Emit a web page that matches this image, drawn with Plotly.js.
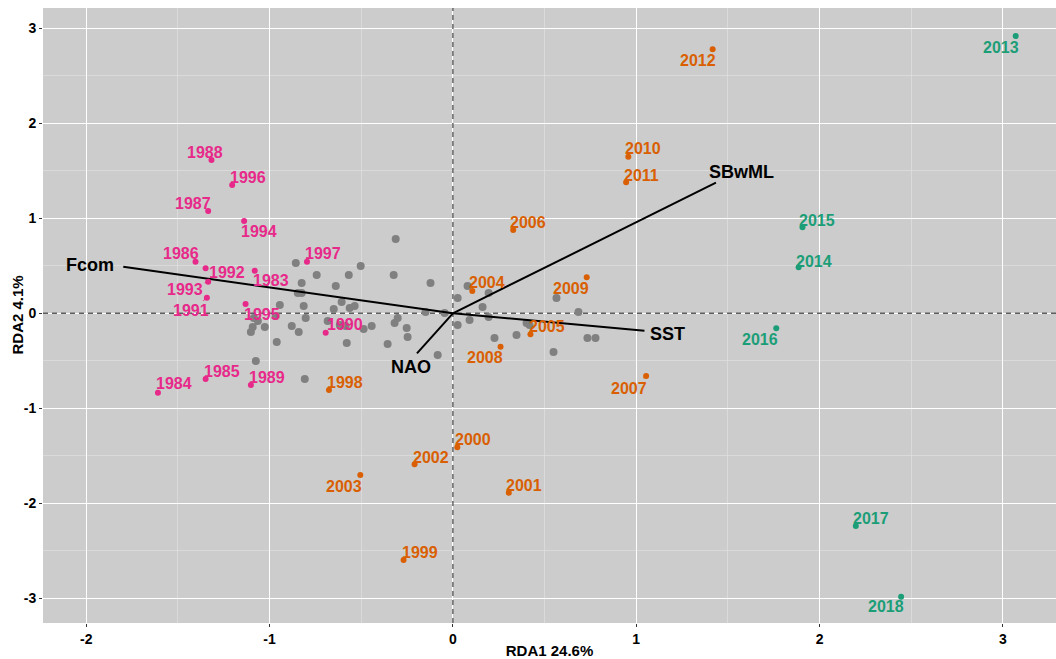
<!DOCTYPE html>
<html>
<head>
<meta charset="utf-8">
<script src="https://cdn.plot.ly/plotly-3.0.1.min.js"></script>
<style>html,body{margin:0;padding:0;background:#fff}#chart{width:1056px;height:659px}</style>
</head>
<body>
<div id="chart"></div>
<script>
// ---- Data ----
// Years (site scores, RDA1 / RDA2)
const years = [1983,1984,1985,1986,1987,1988,1989,1990,1991,1992,1993,1994,1995,1996,1997,
               1998,1999,2000,2001,2002,2003,2004,2005,2006,2007,2008,2009,2010,2011,2012,
               2013,2014,2015,2016,2017,2018];
const yearRDA1 = [-1.081,-1.609,-1.349,-1.404,-1.335,-1.317,-1.102,-0.694,-1.342,-1.349,-1.335,-1.139,-1.131,-1.204,-0.796,
                  -0.676,-0.269,0.024,0.305,-0.209,-0.505,0.106,0.423,0.329,1.054,0.260,0.730,0.957,0.945,1.417,
                  3.070,1.886,1.907,1.764,2.198,2.445];
const yearRDA2 = [0.449,-0.836,-0.692,0.543,1.077,1.614,-0.755,-0.204,0.164,0.474,0.333,0.972,0.098,1.350,0.543,
                  -0.807,-2.597,-1.411,-1.888,-1.590,-1.702,0.235,-0.221,0.877,-0.660,-0.351,0.379,1.649,1.379,2.779,
                  2.919,0.484,0.905,-0.158,-2.239,-2.983];
const yearPeriod = ["P1","P1","P1","P1","P1","P1","P1","P1","P1","P1","P1","P1","P1","P1","P1",
                    "P2","P2","P2","P2","P2","P2","P2","P2","P2","P2","P2","P2","P2","P2","P2",
                    "P3","P3","P3","P3","P3","P3"];
// label offsets (pixels, as placed by the repel layout in the reference)
const labelDX = [16,16,16,-15,-15,-6,16,19,-16,21,-23,15,16,16,16,
                 16,16,16,15,16,-16,15,17,15,-17,-16,-16,15,15,-15,
                 -15,15,15,-16,15,-15];
const labelDY = [10,-9,-8,-8,-8,-7,-8,-8,13,4,8,11,10,-8,-8,
                 -7,-8,-8,-7,-7,11,-8,-8,-8,12,11,11,-8,-7,11,
                 11,-6,-7,11,-8,10];

// Species scores (grey points)
const sppRDA1 = [-0.857,-0.743,-0.568,-0.503,-0.312,-0.323,-0.825,-0.639,-0.846,-0.825,
                 -0.944,-0.814,-0.650,-0.607,-0.563,-0.536,-0.803,-0.966,-1.086,-1.064,
                 -1.092,-1.102,-1.026,-0.879,-0.841,-0.961,-0.683,-0.617,-0.585,-0.579,
                 -0.487,-0.443,-0.318,-0.301,-0.252,-0.247,-0.356,-0.083,-1.075,-0.808,
                 -0.122,-0.149,-0.045,0.026,0.080,0.195,0.162,0.026,0.091,0.195,
                 0.227,0.347,0.402,0.418,0.565,0.685,0.549,0.734,0.778];
const sppRDA2 = [0.529,0.403,0.403,0.498,0.782,0.403,0.319,0.287,0.214,0.214,
                 0.087,0.077,0.045,0.119,0.056,0.077,-0.049,-0.028,-0.049,-0.081,
                 -0.144,-0.197,-0.144,-0.134,-0.197,-0.302,-0.081,-0.123,-0.134,-0.313,
                 -0.165,-0.134,-0.102,-0.049,-0.155,-0.249,-0.323,-0.439,-0.502,-0.692,
                 0.319,0.014,0.003,0.161,0.287,0.214,0.066,-0.123,-0.071,-0.039,
                 -0.260,-0.228,-0.102,-0.123,0.161,0.014,-0.407,-0.260,-0.260];

// Environmental vectors (biplot scores)
const envNames = ["Fcom","SBwML","SST","NAO"];
const envRDA1 = [-1.798,1.435,1.045,-0.196];
const envRDA2 = [0.490,1.375,-0.183,-0.421];
const envLabelDX = [-33,26,23,-6];
const envLabelDY = [2,11,-3,-14];

// Axis labels
const xTitle = "RDA1 24.6%";
const yTitle = "RDA2 4.1%";
const tickVals = [-3,-2,-1,0,1,2,3];

// ---- Styles ----
const periodColor = {P1:"#e7298a", P2:"#d95f02", P3:"#1b9e77"};
const FONT = "Arial, 'Liberation Sans', sans-serif";

const traces = [];
// zero reference lines (dashed), drawn as traces so they sit above the grid and below the points
traces.push({type:"scatter", mode:"lines", x:[0,0], y:[-3.26,3.214],
  line:{color:"#5e5e5e", width:1.4, dash:"5px,4px"}, hoverinfo:"skip"});
traces.push({type:"scatter", mode:"lines", x:[-2.236,3.29], y:[0,0],
  line:{color:"#5e5e5e", width:1.4, dash:"5px,4px"}, hoverinfo:"skip"});
// grey species points
traces.push({
  type:"scatter", mode:"markers", x:sppRDA1, y:sppRDA2,
  marker:{color:"#808080", size:8, line:{width:0}}, hoverinfo:"skip"
});
// environmental vectors
envNames.forEach((n,i)=>{
  traces.push({type:"scatter", mode:"lines", x:[0, envRDA1[i]], y:[0, envRDA2[i]],
    line:{color:"#000", width:2}, hoverinfo:"skip"});
});
// year points by period
["P1","P2","P3"].forEach(p=>{
  const xs=[], ys=[];
  years.forEach((yr,i)=>{ if(yearPeriod[i]===p){ xs.push(yearRDA1[i]); ys.push(yearRDA2[i]); } });
  traces.push({type:"scatter", mode:"markers", x:xs, y:ys,
    marker:{color:periodColor[p], size:6, line:{width:0}}, hoverinfo:"skip"});
});

const annotations = [];
years.forEach((yr,i)=>{
  annotations.push({
    x:yearRDA1[i], y:yearRDA2[i], xref:"x", yref:"y",
    text:String(yr), showarrow:true, arrowhead:0, arrowwidth:1,
    arrowcolor:periodColor[yearPeriod[i]], standoff:0, startstandoff:0,
    ax:labelDX[i], ay:labelDY[i],
    font:{family:FONT, size:16, color:periodColor[yearPeriod[i]], weight:"bold"}
  });
});
envNames.forEach((n,i)=>{
  annotations.push({
    x:envRDA1[i], y:envRDA2[i], xref:"x", yref:"y", text:n, showarrow:false,
    xshift:envLabelDX[i], yshift:envLabelDY[i],
    font:{family:FONT, size:18, color:"#000", weight:"bold"}
  });
});
// y-axis title
annotations.push({
  xref:"paper", yref:"paper", x:0, y:0.5, xshift:-26, text:yTitle, textangle:-90,
  showarrow:false, xanchor:"center", yanchor:"middle",
  font:{family:FONT, size:15, color:"#000", weight:"bold"}
});

const layout = {
  width:1056, height:659,
  margin:{l:43, r:0, t:8, b:36},
  paper_bgcolor:"#ffffff", plot_bgcolor:"#cccccc",
  showlegend:false,
  font:{family:FONT, color:"#000"},
  xaxis:{
    range:[-2.236, 3.29], tickvals:tickVals, ticktext:tickVals.map(String),
    showgrid:true, gridcolor:"#ffffff", gridwidth:1.2, zeroline:false,
    minor:{dtick:0.5, showgrid:true, gridcolor:"#e2e2e2", gridwidth:0.6},
    ticks:"outside", ticklen:3, tickcolor:"#333333",
    tickfont:{family:FONT, size:14, color:"#000", weight:"bold"},
    showline:false, automargin:false,
    title:{text:xTitle, font:{family:FONT, size:15, color:"#000", weight:"bold"}, standoff:2}
  },
  yaxis:{
    range:[-3.26, 3.214], tickvals:tickVals, ticktext:tickVals.map(String),
    showgrid:true, gridcolor:"#ffffff", gridwidth:1.2, zeroline:false,
    minor:{dtick:0.5, showgrid:true, gridcolor:"#e2e2e2", gridwidth:0.6},
    ticks:"outside", ticklen:3, tickcolor:"#333333",
    tickfont:{family:FONT, size:14, color:"#000", weight:"bold"},
    showline:false, automargin:false
  },
  annotations:annotations
};

Plotly.newPlot("chart", traces, layout, {staticPlot:true, displayModeBar:false});
</script>
</body>
</html>
